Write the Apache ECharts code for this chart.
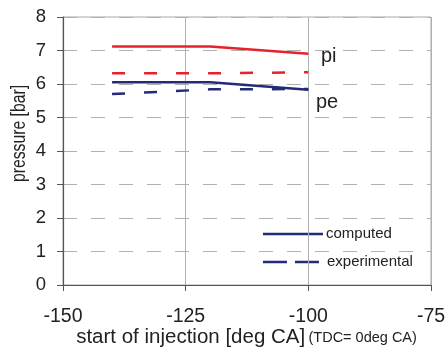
<!DOCTYPE html>
<html>
<head>
<meta charset="utf-8">
<script src="https://cdn.jsdelivr.net/npm/echarts@6/dist/echarts.min.js"></script>
<style>html,body{margin:0;padding:0;background:#fff}#c{width:448px;height:349px}</style>
</head>
<body>
<div id="c"></div>
<script>
const xValues = [-140, -120, -100];
const piComputed = [7.12, 7.12, 6.9];
const piExperimental = [6.32, 6.32, 6.35];
const peComputed = [6.05, 6.05, 5.83];
const peExperimental = [5.7, 5.84, 5.85];
const xTicks = [-150, -125, -100, -75];
const yTicks = [0, 1, 2, 3, 4, 5, 6, 7, 8];

const RED = '#e5232a';
const NAVY = '#222b78';
const FONT = 'Liberation Sans, Arial, sans-serif';

function pairs(ys) { return xValues.map((x, i) => [x, ys[i]]); }
function line(name, ys, color, dashed) {
  return {
    name: name, type: 'line', data: pairs(ys), showSymbol: false, symbol: 'none',
    lineStyle: { color: color, width: 2.5, type: dashed ? [13, 19] : 'solid' },
    animation: false, silent: true
  };
}

const chart = echarts.init(document.getElementById('c'), null, { renderer: 'canvas' });
chart.setOption({
  animation: false,
  grid: { left: 63, right: 17, top: 17, bottom: 64, containLabel: false, outerBoundsMode: 'none',
          show: true, borderColor: '#a8a8a8', borderWidth: 1 },
  xAxis: {
    type: 'value', min: xTicks[0], max: xTicks[xTicks.length - 1], interval: 25,
    axisLine: { show: true, onZero: false, lineStyle: { color: '#555', width: 1.2 } },
    axisTick: { show: true, inside: false, length: 6, lineStyle: { color: '#555' } },
    axisLabel: { fontSize: 19.5, color: '#222', fontFamily: FONT, margin: 22 },
    splitLine: { show: true, lineStyle: { color: '#b0b0b0', width: 1 } }
  },
  yAxis: {
    type: 'value', min: yTicks[0], max: yTicks[yTicks.length - 1], interval: 1,
    axisLine: { show: true, onZero: false, lineStyle: { color: '#555', width: 1.2 } },
    axisTick: { show: true, inside: false, length: 6, lineStyle: { color: '#555' } },
    axisLabel: { fontSize: 18.5, color: '#222', fontFamily: FONT, margin: 17 },
    splitLine: { show: true, lineStyle: { color: '#b0b0b0', width: 1, type: [14, 14] } }
  },
  series: [
    line('pi computed', piComputed, RED, false),
    line('pi experimental', piExperimental, RED, true),
    line('pe computed', peComputed, NAVY, false),
    line('pe experimental', peExperimental, NAVY, true)
  ],
  graphic: [
    { type: 'text', x: 246.5, y: 337.5,
      style: { text: '{a|start of injection [deg CA]} {b|(TDC= 0deg CA)}', align: 'center', verticalAlign: 'middle',
        fontFamily: FONT, fill: '#222',
        rich: {
          a: { fontSize: 20.5, fontFamily: FONT, fill: '#222' },
          b: { fontSize: 14.5, fontFamily: FONT, fill: '#222' }
        } } },
    { type: 'text', x: 19, y: 133.5, rotation: Math.PI / 2, scaleX: 0.75,
      style: { text: 'pressure [bar]', fontSize: 21, fontFamily: FONT, fill: '#222', align: 'center', verticalAlign: 'middle' } },
    { type: 'text', x: 321, y: 56,
      style: { text: 'pi', fontSize: 20, fontFamily: FONT, fill: '#222', align: 'left', verticalAlign: 'middle' } },
    { type: 'text', x: 316, y: 102,
      style: { text: 'pe', fontSize: 20, fontFamily: FONT, fill: '#222', align: 'left', verticalAlign: 'middle' } },
    { type: 'line', shape: { x1: 263, y1: 234, x2: 323, y2: 234 },
      style: { stroke: NAVY, lineWidth: 2.5 } },
    { type: 'line', shape: { x1: 263, y1: 262, x2: 323, y2: 262 },
      style: { stroke: NAVY, lineWidth: 2.5, lineDash: [24, 8] } },
    { type: 'text', x: 326, y: 234,
      style: { text: 'computed', fontSize: 15, fontFamily: FONT, fill: '#222', align: 'left', verticalAlign: 'middle' } },
    { type: 'text', x: 327, y: 262,
      style: { text: 'experimental', fontSize: 15, fontFamily: FONT, fill: '#222', align: 'left', verticalAlign: 'middle' } }
  ]
});
</script>
</body>
</html>
